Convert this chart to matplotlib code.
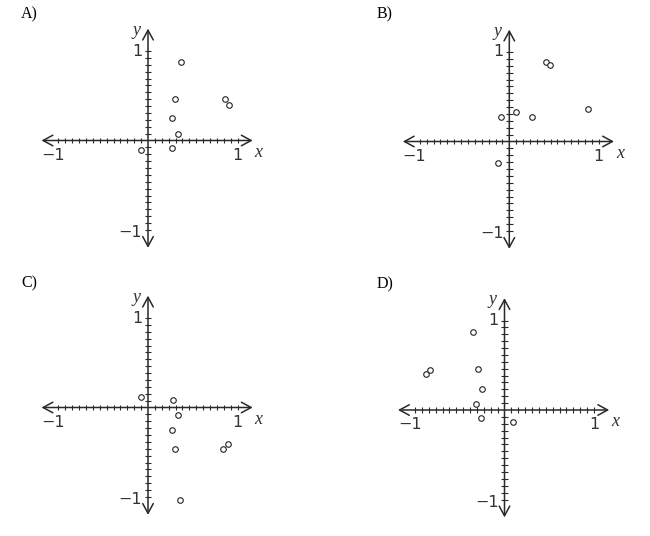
import matplotlib
matplotlib.use("Agg")
import matplotlib.pyplot as plt
import numpy as np

# ---- data ----
panel_labels = ["A)", "B)", "C)", "D)"]

A_x = [0.37, 0.305, 0.27, 0.34, 0.27, -0.08, 0.86, 0.90]
A_y = [0.88, 0.46, 0.25, 0.076, -0.088, -0.11, 0.46, 0.40]

B_x = [0.41, 0.455, -0.093, 0.075, 0.25, 0.876, -0.123]
B_y = [0.89, 0.85, 0.277, 0.333, 0.274, 0.366, -0.237]

C_x = [-0.08, 0.275, 0.34, 0.265, 0.305, 0.84, 0.89, 0.36]
C_y = [0.117, 0.08, -0.084, -0.25, -0.46, -0.46, -0.41, -1.03]

D_x = [-0.35, -0.30, -0.255, -0.32, -0.266, 0.095, -0.877, -0.836]
D_y = [0.87, 0.455, 0.24, 0.07, -0.093, -0.13, 0.40, 0.447]

tick_labels_pos = ["1", "\u22121"]
ticks_per_unit = 13

# ---- layout ----
W, H = 650, 536
fig = plt.figure(figsize=(W / 100, H / 100), dpi=100)
U = 89.5          # pixels per unit
L = 1.35          # half range of each panel
origins = [(148, 140.5), (509.3, 141.5), (148, 407.5), (504.5, 410)]
label_pos = [(21, 14), (377, 14), (21, 283), (377, 284)]
datasets = [(A_x, A_y), (B_x, B_y), (C_x, C_y), (D_x, D_y)]
axcol = "#2a2a2a"

ticks = np.arange(-ticks_per_unit, ticks_per_unit + 1) / ticks_per_unit
ticks = ticks[np.abs(ticks) > 1e-9]

for (ox, oy), (xs, ys), lab, (lx, ly) in zip(origins, datasets, panel_labels, label_pos):
    left = (ox - L * U) / W
    bottom = (H - (oy + L * U)) / H
    ax = fig.add_axes([left, bottom, 2 * L * U / W, 2 * L * U / H])
    ax.set_xlim(-L, L)
    ax.set_ylim(-L, L)
    ax.axis("off")

    ap = dict(arrowstyle="<->,head_length=0.7,head_width=0.38",
              lw=1.1, color=axcol, shrinkA=0, shrinkB=0)
    ax.annotate("", xy=(1.17, 0), xytext=(-1.19, 0), arrowprops=ap)
    ax.annotate("", xy=(0, 1.25), xytext=(0, -1.20), arrowprops=ap)

    tl = 0.032
    for t in ticks:
        ax.plot([t, t], [-tl, tl], color=axcol, lw=0.8, solid_capstyle="butt")
        ax.plot([-tl * 1.15, tl * 1.15], [t, t], color=axcol, lw=0.8, solid_capstyle="butt")

    tkw = dict(fontsize=11.5, family="DejaVu Sans", color="#333333")
    ax.text(1.0, -0.165, tick_labels_pos[0], ha="center", va="center", **tkw)
    ax.text(-1.06, -0.165, tick_labels_pos[1], ha="center", va="center", **tkw)
    ax.text(-0.065, 1.0, tick_labels_pos[0], ha="right", va="center", **tkw)
    ax.text(-0.065, -1.03, tick_labels_pos[1], ha="right", va="center", **tkw)

    vkw = dict(fontsize=13, family="Liberation Serif", style="italic", color="#333333")
    ax.text(1.19, -0.13, "x", ha="left", va="center", **vkw)
    ax.text(-0.13, 1.23, "y", ha="center", va="center", **vkw)

    ax.plot(xs, ys, linestyle="none", marker="o", markersize=4.0,
            markerfacecolor="white", markeredgecolor="#222222", markeredgewidth=0.8)

    fig.text(lx / W, 1 - ly / H, lab, ha="left", va="center",
             fontsize=11.5, family="Liberation Serif", color="black")

fig.savefig("out.png", dpi=100, facecolor="white")
